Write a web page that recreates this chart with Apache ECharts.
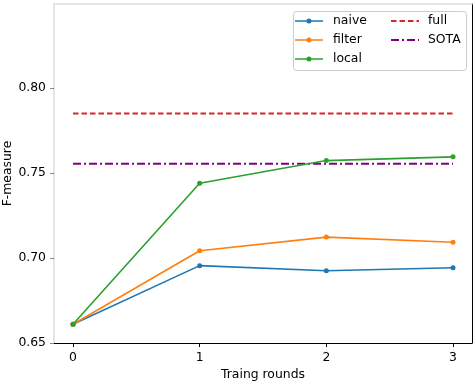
<!DOCTYPE html>
<html><head><meta charset="utf-8">
<script src="https://cdn.jsdelivr.net/npm/echarts@6/dist/echarts.min.js"></script>
<style>html,body{margin:0;padding:0;background:#fff}#c{width:476px;height:386px}</style>
</head><body><div id="c"></div>
<script>
const rounds = [0, 1, 2, 3];
const naive = [0.661, 0.6955, 0.6925, 0.6943];
const filterV = [0.661, 0.7043, 0.7123, 0.7093];
const local = [0.661, 0.7440, 0.7573, 0.7595];
const fullV = 0.785;
const sota = 0.7555;
const yTicks = [0.65, 0.70, 0.75, 0.80];

const FONT = 'DejaVu Sans';
const FS = 12.4;
const pairs = (xs, ys) => xs.map((x, i) => [x, ys[i]]);
const flat = v => [[rounds[0], v], [rounds[rounds.length - 1], v]];

// legend icons (line with marker / dashed / dash-dot)
const ICON_MARK = 'path://M0,2.7h11.6v1.6h-11.6Z M16.4,2.7h11.6v1.6h-11.6Z M11.5,3.5A2.5,2.5 0 1,1 16.5,3.5A2.5,2.5 0 1,1 11.5,3.5Z';
const ICON_DASH = 'path://M0,0h5.5v2h-5.5Z M8.5,0h5.5v2h-5.5Z M17,0h5.5v2h-5.5Z M25.5,0h2.5v2h-2.5Z';
const ICON_DASHDOT = 'path://M0,0h8v2h-8Z M11,0h2v2h-2Z M16,0h8v2h-8Z M27,0h1v2h-1Z';

const chart = echarts.init(document.getElementById('c'), null, {renderer: 'canvas'});
chart.setOption({
  animation: false,
  backgroundColor: '#fff',
  textStyle: {fontFamily: FONT},
  grid: {left: 54, right: 4, top: 4, bottom: 43, containLabel: false, outerBoundsMode: 'none'},
  xAxis: [{
    type: 'value', min: -0.15, max: 3.15,
    name: 'Traing rounds', nameLocation: 'middle', nameGap: 26, nameMoveOverlap: false,
    nameTextStyle: {fontFamily: FONT, fontSize: FS, color: '#000'},
    axisLine: {onZero: false, lineStyle: {color: '#000', width: 1}},
    axisTick: {customValues: rounds, length: 4, lineStyle: {color: '#000'}},
    axisLabel: {customValues: rounds, margin: 9, fontFamily: FONT, fontSize: FS, color: '#000'},
    splitLine: {show: false}
  }, {
    type: 'value', min: -0.15, max: 3.15, position: 'top',
    axisLine: {show: true, onZero: false, lineStyle: {color: '#dddddd', width: 1.5}},
    axisTick: {show: false}, axisLabel: {show: false}, splitLine: {show: false}
  }],
  yAxis: [{
    type: 'value', min: 0.65, max: 0.8494,
    name: 'F-measure', nameLocation: 'middle', nameGap: 40, nameRotate: 90, nameMoveOverlap: false,
    nameTextStyle: {fontFamily: FONT, fontSize: FS, color: '#000'},
    axisLine: {show: true, onZero: false, lineStyle: {color: '#dddddd', width: 1.5}},
    axisTick: {show: true, customValues: yTicks, length: 4, lineStyle: {color: '#888'}},
    axisLabel: {customValues: yTicks, margin: 8, fontFamily: FONT, fontSize: FS, color: '#000',
      formatter: v => v.toFixed(2)},
    splitLine: {show: false}
  }, {
    type: 'value', min: 0.65, max: 0.8494, position: 'right',
    axisLine: {show: true, onZero: false, lineStyle: {color: '#000', width: 1}},
    axisTick: {show: false}, axisLabel: {show: false}, splitLine: {show: false}
  }],
  legend: [{
    data: [{name: 'naive', icon: ICON_MARK}, {name: 'filter', icon: ICON_MARK}, {name: 'local', icon: ICON_MARK}],
    orient: 'vertical', left: 290, top: 10,
    itemWidth: 28, itemHeight: 12, itemGap: 7,
    textStyle: {fontFamily: FONT, fontSize: FS, color: '#000', padding: [0, 0, 0, 5]}
  }, {
    data: [{name: 'full', icon: ICON_DASH}, {name: 'SOTA', icon: ICON_DASHDOT}],
    orient: 'vertical', left: 386, top: 10,
    itemWidth: 28, itemHeight: 12, itemGap: 7,
    textStyle: {fontFamily: FONT, fontSize: FS, color: '#000', padding: [0, 0, 0, 4]}
  }],
  graphic: [{
    type: 'rect', left: 293, top: 11, z: -1,
    shape: {width: 173, height: 59, r: 3},
    style: {fill: '#fff', stroke: '#cccccc', lineWidth: 1}
  }],
  series: [
    {name: 'naive', type: 'line', data: pairs(rounds, naive), color: '#1f77b4',
      symbol: 'circle', symbolSize: 5, lineStyle: {width: 1.6}, z: 3},
    {name: 'filter', type: 'line', data: pairs(rounds, filterV), color: '#ff7f0e',
      symbol: 'circle', symbolSize: 5, lineStyle: {width: 1.6}, z: 3},
    {name: 'local', type: 'line', data: pairs(rounds, local), color: '#2ca02c',
      symbol: 'circle', symbolSize: 5, lineStyle: {width: 1.6}, z: 4},
    {name: 'full', type: 'line', data: flat(fullV), color: '#d62728',
      symbol: 'none', lineStyle: {width: 2, type: [5.5, 3]}, z: 2},
    {name: 'SOTA', type: 'line', data: flat(sota), color: '#800080',
      symbol: 'none', lineStyle: {width: 2, type: [8, 3, 2, 3]}, z: 2}
  ]
});
</script></body></html>
